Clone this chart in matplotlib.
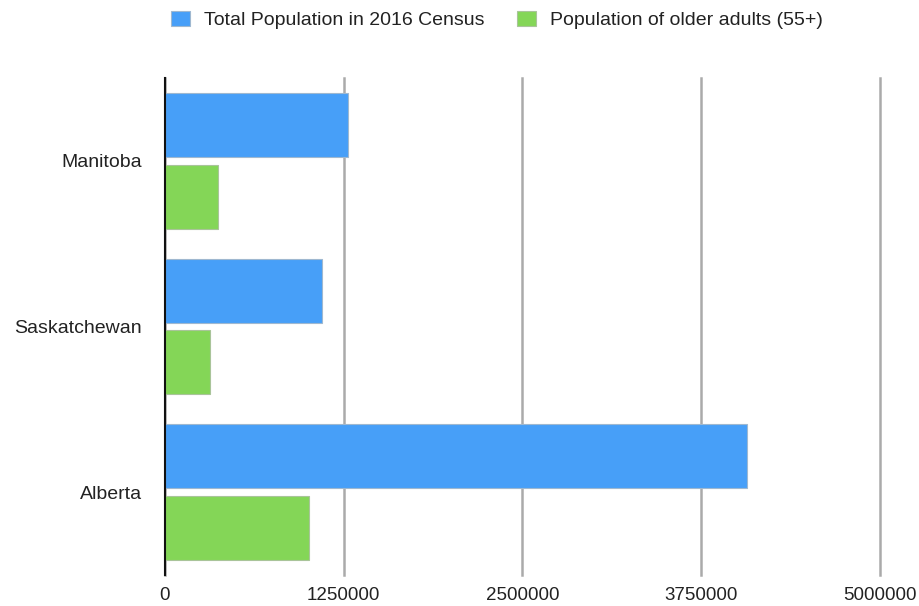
import matplotlib.pyplot as plt
import numpy as np

plt.rcParams['font.family'] = ['Liberation Sans', 'DejaVu Sans']

# data
provinces = ['Manitoba', 'Saskatchewan', 'Alberta']
total_pop = [1278365, 1098352, 4067175]
older_pop = [370000, 313000, 1005000]
series_names = ['Total Population in 2016 Census', 'Population of older adults (55+)']
x_ticks = [0, 1250000, 2500000, 3750000, 5000000]

BLUE = '#479ff8'
GREEN = '#84d657'

fig = plt.figure(figsize=(9.2, 6.06), dpi=100)
ax = fig.add_axes([0.1793, 0.0512, 0.7772, 0.8201])

pos = np.arange(len(provinces))[::-1]
h = 0.386
off = 0.217
ax.barh(pos + off, total_pop, height=h, color=BLUE, edgecolor='#9fb8d0',
        linewidth=0.8, label=series_names[0], zorder=3)
ax.barh(pos - off, older_pop, height=h, color=GREEN, edgecolor='#a9c49a',
        linewidth=0.8, label=series_names[1], zorder=3)

ax.set_xlim(0, 5000000)
ax.set_ylim(-0.5, 2.5)
ax.set_xticks(x_ticks)
ax.set_xticklabels([str(t) for t in x_ticks])
ax.set_yticks(pos)
ax.set_yticklabels(provinces)
ax.grid(axis='x', color='#aaaaaa', linewidth=1.8, zorder=1)
for gl in ax.get_xgridlines():
    gl.set_clip_on(False)
ax.tick_params(length=0, colors='#222222')
ax.tick_params(axis='x', labelsize=13.5, pad=9)
ax.tick_params(axis='y', labelsize=14, pad=16.5)

for s in ['top', 'right', 'bottom']:
    ax.spines[s].set_visible(False)
ax.spines['left'].set_color('#111111')
ax.spines['left'].set_linewidth(1.5)
ax.spines['left'].set_zorder(4)

fig.legend(loc='center', bbox_to_anchor=(497 / 920, 1 - 20 / 606), ncol=2, frameon=False,
           fontsize=14, handlelength=1.0, handleheight=0.85, columnspacing=1.65,
           handletextpad=0.72, labelcolor='#222222')

fig.savefig('out.png', dpi=100)
